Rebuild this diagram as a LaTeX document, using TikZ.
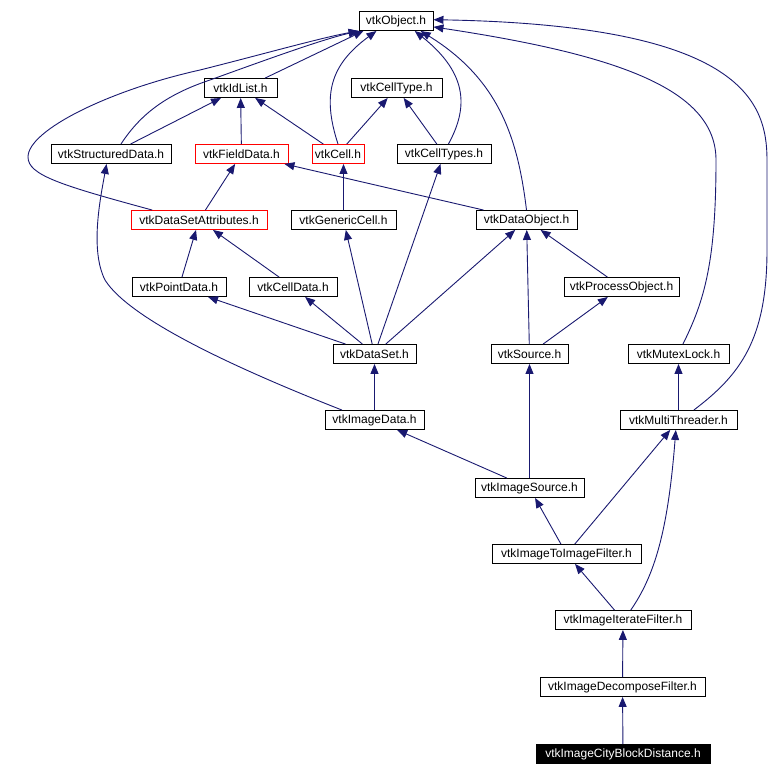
\documentclass[tikz,border=0pt]{standalone}
\usepackage{fontspec}
\setmainfont{Liberation Sans}
\usetikzlibrary{arrows.meta}
\definecolor{edgeblue}{HTML}{191970}

\begin{document}
\begin{tikzpicture}[
    x=1pt, y=-1pt,
    font=\fontsize{12}{14}\selectfont,
    box/.style={rectangle, draw=black, fill=white, line width=0.9pt,
      inner sep=0pt, minimum height=19pt},
    redbox/.style={box, draw=red},
    leaf/.style={box, fill=black, text=white},
    dep/.style={draw=edgeblue, line width=0.9pt,
      -{Triangle[length=10pt,width=8pt]}}
  ]
    \useasboundingbox (0,0) rectangle (782,776);

    \node[box, minimum width=74pt] (obj) at (396,21) {vtkObject.h};

    \node[box, minimum width=73pt] (idl)   at (240.5,88) {vtkIdList.h};
    \node[box, minimum width=91pt] (ctype) at (396.5,88) {vtkCellType.h};

    \node[box, minimum width=120pt]   (sd)     at (111,154)   {vtkStructuredData.h};
    \node[redbox, minimum width=93pt] (fd)     at (241.5,154) {vtkFieldData.h};
    \node[redbox, minimum width=52pt] (cell)   at (338,154)   {vtkCell.h};
    \node[box, minimum width=94pt]    (ctypes) at (444,154)   {vtkCellTypes.h};

    \node[redbox, minimum width=136pt] (dsa)  at (199,220)   {vtkDataSetAttributes.h};
    \node[box, minimum width=105pt]    (gc)   at (343.5,220) {vtkGenericCell.h};
    \node[box, minimum width=101pt]    (dobj) at (526.5,220) {vtkDataObject.h};

    \node[box, minimum width=94pt]  (pd) at (179,287)   {vtkPointData.h};
    \node[box, minimum width=88pt]  (cd) at (293,287)   {vtkCellData.h};
    \node[box, minimum width=115pt] (po) at (621.5,287) {vtkProcessObject.h};

    \node[box, minimum width=83pt]  (ds)  at (374.5,354) {vtkDataSet.h};
    \node[box, minimum width=77pt]  (src) at (529.5,354) {vtkSource.h};
    \node[box, minimum width=101pt] (ml)  at (678.5,354) {vtkMutexLock.h};

    \node[box, minimum width=99pt]  (id) at (374.5,420) {vtkImageData.h};
    \node[box, minimum width=117pt] (mt) at (678.5,420) {vtkMultiThreader.h};

    \node[box, minimum width=109pt] (is)   at (529.5,488) {vtkImageSource.h};
    \node[box, minimum width=149pt] (itif) at (566.5,554) {vtkImageToImageFilter.h};
    \node[box, minimum width=136pt] (iif)  at (623,620)   {vtkImageIterateFilter.h};
    \node[box, minimum width=165pt] (idf)  at (622.5,687) {vtkImageDecomposeFilter.h};
    \node[leaf, minimum width=174pt] (cbd) at (623,754)   {vtkImageCityBlockDistance.h};

    % straight dependencies
    \foreach \a/\b in {sd/idl, fd/idl, cell/idl, cell/ctype, ctypes/ctype,
        dsa/fd, dobj/fd, pd/dsa, cd/dsa, po/dobj, ds/pd, ds/cd, ds/gc,
        ds/ctypes, ds/dobj, src/dobj, src/po, mt/ml, id/ds, is/id, is/src,
        itif/is, itif/mt, iif/itif, idf/iif, cbd/idf}
      \draw[dep] (\a) -- (\b);
    \draw[dep] (gc.north) -- (gc.north |- cell.south);
    \draw[dep] (idl.22) -- (obj.197);

    % curved ones
    \draw[dep] (sd.45) .. controls (140,115) and (165,95) .. (210,80)
      .. controls (260,62) and (320,40) .. (obj.195);
    \draw[dep] (dsa.168) .. controls (60,185) and (28,175) .. (28,157)
      .. controls (28,130) and (110,90) .. (200,70)
      .. controls (260,55) and (320,38) .. (obj.south west);
    \draw[dep] (cell.north) .. controls (322,95) and (330,65) .. (obj.207);
    \draw[dep] (ctypes.66) .. controls (467,110) and (470,75) .. (obj.-28);
    \draw[dep] (dobj.north) .. controls (518,140) and (500,80) .. (obj.-22);
    \draw[dep] (ml.66) .. controls (705,300) and (716,260) .. (716,160)
      .. controls (716,90) and (620,55) .. (obj.-9);
    \draw[dep] (mt.33) .. controls (740,375) and (767,340) .. (767,250)
      -- (767,160) .. controls (767,100) and (740,25) .. (obj.2);
    \draw[dep] (id.163) .. controls (240,370) and (130,320) .. (105,280)
      .. controls (90,250) and (100,200) .. (sd.-114);
    \draw[dep] (iif.52) .. controls (655,575) and (668,530) .. (mt.-105);
  \end{tikzpicture}
\end{document}
